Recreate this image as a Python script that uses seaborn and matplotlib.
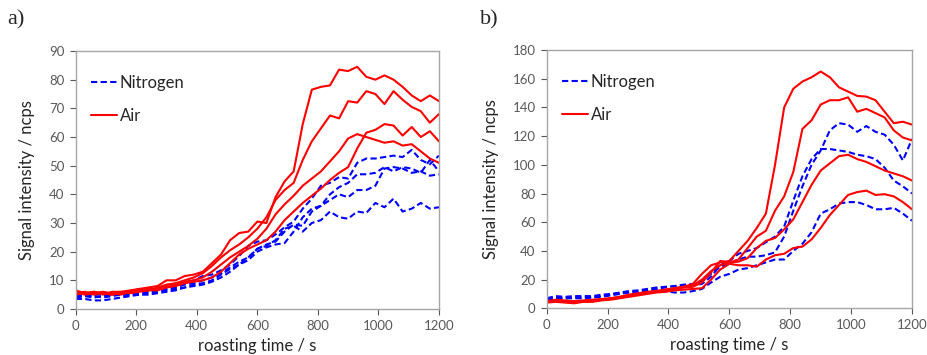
import pandas as pd
import matplotlib
matplotlib.use('Agg')
import matplotlib.pyplot as plt
import seaborn as sns
from matplotlib.lines import Line2D

# roasting time grid (s)
t = list(range(0, 1201, 30))

# panel a) - Air (solid red)
a_air_1 = [6.5, 5.5, 6, 5.5, 5, 6, 6.5, 7, 7.5, 8, 10, 10, 11.5, 12, 13, 16, 19, 24, 26.5, 27, 30.5,
           30, 39, 44.5, 48, 64.5, 76.5, 77.5, 78, 83.5, 83, 84.5, 81, 80, 81.5, 80, 77.5, 74.5, 72.5, 74.5, 72.5]
a_air_2 = [6, 5, 5.5, 6, 5.5, 5, 6, 7, 6.5, 7.5, 8.5, 9, 10, 11, 12.5, 15, 18, 20.5, 22.5, 25, 28,
           32, 38, 41.5, 44, 52, 58.5, 63, 67.5, 66.5, 72.5, 72, 76, 75, 71.5, 76, 73, 70.5, 69, 65, 68]
a_air_3 = [5.5, 6, 5, 5.5, 5, 5.5, 6, 6.5, 7, 7, 8, 8.5, 9.5, 10, 11, 13, 15.5, 18, 20, 22, 24.5,
           28, 33, 36.5, 39.5, 43, 45.5, 48, 51.5, 55, 59.5, 61, 60, 59, 58, 58.5, 57, 57.5, 55, 52.5, 51]
a_air_4 = [5, 5.5, 6, 5, 6, 6, 5.5, 6, 6.5, 6.5, 7.5, 8, 9, 9.5, 10, 11, 13, 16, 19, 21, 22.5,
           24, 27, 31, 34, 37, 39.5, 42, 45, 47.5, 49.5, 56, 61.5, 62.5, 64.5, 64, 60.5, 63.5, 60, 62, 58.5]

# panel a) - Nitrogen (dashed blue)
a_n2_1 = [4.5, 4.5, 5, 5, 5, 5.5, 6, 6, 6.5, 7, 7.5, 8.5, 9, 10, 11.5, 12, 13.5, 15.5, 18.5, 22, 23.5,
          24, 26, 28.5, 30.5, 35, 38.5, 43, 44, 46, 45.5, 51, 52.5, 52.5, 53, 53.5, 53, 55.5, 52, 50.5, 53.5]
a_n2_2 = [4, 4.5, 4.5, 4, 4.5, 5, 5, 5.5, 6, 6.5, 7, 7.5, 8.5, 9, 10, 11, 12.5, 14.5, 16.5, 18, 21,
          22.5, 23.5, 27, 29.5, 29, 34, 36, 40, 42.5, 44, 47, 47, 47.5, 49.5, 48, 49.5, 49, 47.5, 52, 48]
a_n2_3 = [5, 4.5, 4, 4.5, 5, 5, 5, 5, 5.5, 6, 6.5, 7, 7.5, 8.5, 9, 10, 12, 14, 15.5, 17, 20,
          21.5, 22.5, 23, 27, 32, 35, 36, 38, 40, 39, 41.5, 41.5, 43, 49, 49.5, 49, 47.5, 48, 46.5, 47]
a_n2_4 = [3.5, 3.5, 3, 3, 3.5, 4, 4.5, 5, 5, 5.5, 6, 6.5, 7.5, 8, 8.5, 9.5, 11, 13, 15.5, 18, 21,
          22, 24, 28, 29, 27, 30, 31, 34, 32, 31.5, 34, 33.5, 37, 35.5, 38.5, 34, 35, 37, 35, 35.5]

# panel b) - Air (solid red)
b_air_1 = [5, 6, 5.5, 5, 5.5, 6, 6.5, 7, 8, 9.5, 10.5, 11.5, 12, 13, 14, 15, 17, 24, 30, 32, 33,
           40, 47, 56, 66, 100, 140, 153, 158, 161, 165, 161, 154, 151, 148, 147.5, 145, 137, 129, 130, 128]
b_air_2 = [4.5, 5, 5, 4.5, 5, 5.5, 6, 7, 8, 9, 10, 11, 12, 13, 14, 15, 16, 20, 26, 30, 32,
           34, 42, 50, 54, 68, 78, 95, 125, 131, 142, 145, 145, 147, 137, 139, 136, 133, 124, 119, 117]
b_air_3 = [5, 5, 4.5, 4, 5, 5, 6, 6.5, 7.5, 9, 9.5, 11, 11.5, 12, 13, 14.5, 15, 18, 25, 33, 32,
           32.5, 35, 42, 47, 49, 55, 62, 74, 86, 96, 101, 106, 107, 104, 102, 99, 96, 94, 92, 89]
b_air_4 = [4, 4.5, 4, 3.5, 4.5, 4.5, 5.5, 6, 7, 8, 9, 10, 11, 11.5, 12.5, 13, 13.5, 14, 20, 27, 31,
           30, 30, 29, 34, 37, 38, 42, 43, 48, 56, 65, 72, 79, 81, 82, 79, 79.5, 78, 74, 69]

# panel b) - Nitrogen (dashed blue)
b_n2_1 = [7, 8.5, 8, 8.5, 8.5, 8.5, 9.5, 10, 11, 12, 12.5, 13.5, 14.5, 15, 15.5, 16.5, 17, 19, 24, 29, 31,
          34, 36, 36, 37, 39, 50, 68, 85, 100, 110, 124, 129, 128, 123, 127, 123, 121, 114, 103, 118]
b_n2_2 = [6, 7, 7, 7.5, 7.5, 7.5, 8.5, 9.5, 10.5, 11, 11.5, 12.5, 13.5, 14.5, 15.5, 16, 16, 17, 22, 30, 33,
          38, 40, 42, 46, 50, 57, 75, 92, 104, 111, 111, 110, 109, 107, 106, 104, 98, 89, 85, 80]
b_n2_3 = [7, 7.5, 7, 7, 7, 7.5, 8, 9, 10, 11, 11, 12, 12.5, 12, 11, 11, 12, 13.5, 18, 22, 24,
          27, 28, 30, 32, 34, 34, 40, 45, 53, 66, 69, 73, 74, 74, 72, 69, 69, 70, 66, 61]

panels = {
    'a)': {'Nitrogen': [a_n2_1, a_n2_2, a_n2_3, a_n2_4], 'Air': [a_air_1, a_air_2, a_air_3, a_air_4]},
    'b)': {'Nitrogen': [b_n2_1, b_n2_2, b_n2_3], 'Air': [b_air_1, b_air_2, b_air_3, b_air_4]},
}

sns.set_theme(style='ticks')
plt.rcParams['font.family'] = ['Lato', 'DejaVu Sans']

colors = {'Nitrogen': '#0000ff', 'Air': '#ff0000'}
dashes = {'Nitrogen': (3, 1.6), 'Air': ''}
gray = '#a6a6a6'

fig = plt.figure(figsize=(9.28, 3.55), dpi=100)
ax_a = fig.add_axes([0.0816, 0.1296, 0.3914, 0.7267])
ax_b = fig.add_axes([0.5891, 0.1315, 0.3937, 0.7277])

for ax, (name, groups), ymax, ystep, labx in [(ax_a, list(panels.items())[0], 90, 10, 0.008),
                                               (ax_b, list(panels.items())[1], 180, 20, 0.517)]:
    rows = []
    for gas, runs in groups.items():
        for i, run in enumerate(runs):
            for tt, v in zip(t, run):
                rows.append({'time': tt, 'signal': v, 'gas': gas, 'run': f'{gas}{i}'})
    df = pd.DataFrame(rows)
    sns.lineplot(data=df, x='time', y='signal', hue='gas', style='gas', units='run',
                 estimator=None, palette=colors, dashes=dashes, linewidth=1.5,
                 legend=False, ax=ax)
    ax.set_xlim(0, 1200)
    ax.set_ylim(0, ymax)
    ax.set_xticks(range(0, 1201, 200))
    ax.set_yticks(range(0, ymax + 1, ystep))
    ax.set_xlabel('roasting time / s', fontsize=12, color='#262626', labelpad=4)
    ax.set_ylabel('Signal intensity / ncps', fontsize=12, color='#262626', labelpad=10)
    ax.tick_params(axis='both', labelsize=9.5, colors='#595959', length=4, width=0.8, pad=4)
    for s in ax.spines.values():
        s.set_visible(True)
        s.set_color(gray)
        s.set_linewidth(1)
    handles = [Line2D([], [], color=colors['Nitrogen'], lw=1.5, dashes=(3, 1.6)),
               Line2D([], [], color=colors['Air'], lw=1.5)]
    ax.legend(handles, ['Nitrogen', 'Air'], loc='upper left', bbox_to_anchor=(0.0, 0.965),
              frameon=False, fontsize=12, handlelength=1.6, handletextpad=0.15,
              labelspacing=1.0)
    fig.text(labx, 0.945, name, fontsize=16, family='Liberation Serif', ha='left', va='center')

fig.savefig('out.png', dpi=100)
